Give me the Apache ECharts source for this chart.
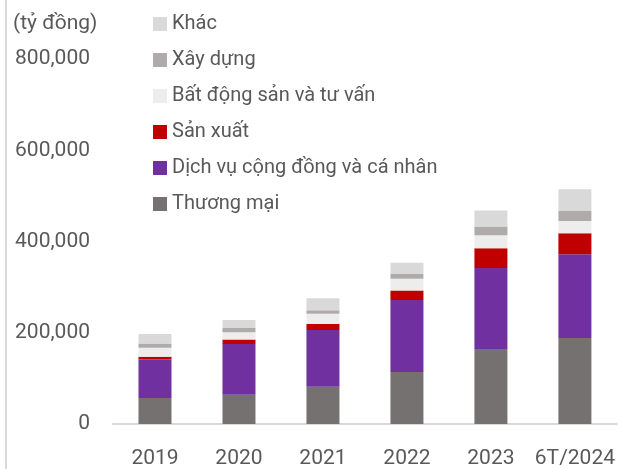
<!DOCTYPE html>
<html>
<head>
<meta charset="utf-8">
<script src="https://cdn.jsdelivr.net/npm/echarts@6/dist/echarts.min.js"></script>
<style>
  html, body { margin: 0; padding: 0; background: #fff; }
  #chart { width: 618px; height: 469px; }
</style>
</head>
<body>
<div id="chart"></div>
<script>
// đơn vị: tỷ đồng
const years = ['2019', '2020', '2021', '2022', '2023', '6T/2024']
const thuongMai = [57000, 64000, 81500, 114000, 164500, 188500]
const dichVu = [84500, 111500, 124500, 158000, 177500, 183500]
const sanXuat = [6000, 9500, 13000, 20500, 43000, 46000]
const batDongSan = [19500, 16000, 22500, 26000, 28500, 27000]
const xayDung = [9500, 9500, 8000, 10000, 19500, 22000]
const khac = [20500, 17500, 26000, 25000, 35000, 47500]
const yTicks = [0, 200000, 400000, 600000, 800000]

const textColor = '#595959'
const font = 'Roboto'

const seriesList = [
  { name: 'Thương mại', data: thuongMai, color: '#767171' },
  { name: 'Dịch vụ cộng đồng và cá nhân', data: dichVu, color: '#7030a0' },
  { name: 'Sản xuất', data: sanXuat, color: '#c00000' },
  { name: 'Bất động sản và tư vấn', data: batDongSan, color: '#ededed' },
  { name: 'Xây dựng', data: xayDung, color: '#afabab' },
  { name: 'Khác', data: khac, color: '#d9d9d9' }
]

const chart = echarts.init(document.getElementById('chart'))

const option = {
  animation: false,
  textStyle: { fontFamily: font, color: textColor },
  title: {
    text: '(tỷ đồng)',
    left: 8,
    top: 8,
    textStyle: { fontFamily: font, fontSize: 21, fontWeight: 'normal', color: textColor }
  },
  legend: {
    orient: 'vertical',
    left: 148,
    top: 9,
    itemWidth: 14,
    itemHeight: 14,
    itemGap: 16,
    icon: 'rect',
    data: seriesList.map(s => s.name).reverse(),
    textStyle: { fontFamily: font, fontSize: 20, color: textColor, lineHeight: 20 }
  },
  grid: { left: 113, right: 1, top: 59, bottom: 44 },
  xAxis: {
    type: 'category',
    data: years,
    axisTick: { show: false },
    axisLine: { lineStyle: { color: '#d9d9d9', width: 2 } },
    axisLabel: { fontSize: 21, color: textColor, margin: 24, fontFamily: font, interval: 0 }
  },
  yAxis: {
    type: 'value',
    min: yTicks[0],
    max: yTicks[yTicks.length - 1],
    interval: 200000,
    splitLine: { show: false },
    axisLine: { show: false },
    axisLabel: {
      fontSize: 21,
      color: textColor,
      margin: 23,
      fontFamily: font,
      formatter: v => v.toLocaleString('en-US')
    }
  },
  graphic: [
    { type: 'line', shape: { x1: 6, y1: 0, x2: 6, y2: 469 }, style: { stroke: '#d9d9d9', lineWidth: 2 } }
  ],
  series: seriesList.map(s => ({
    name: s.name,
    type: 'bar',
    stack: 'total',
    barWidth: 33,
    data: s.data,
    itemStyle: { color: s.color }
  }))
}

chart.setOption(option)
</script>
</body>
</html>
